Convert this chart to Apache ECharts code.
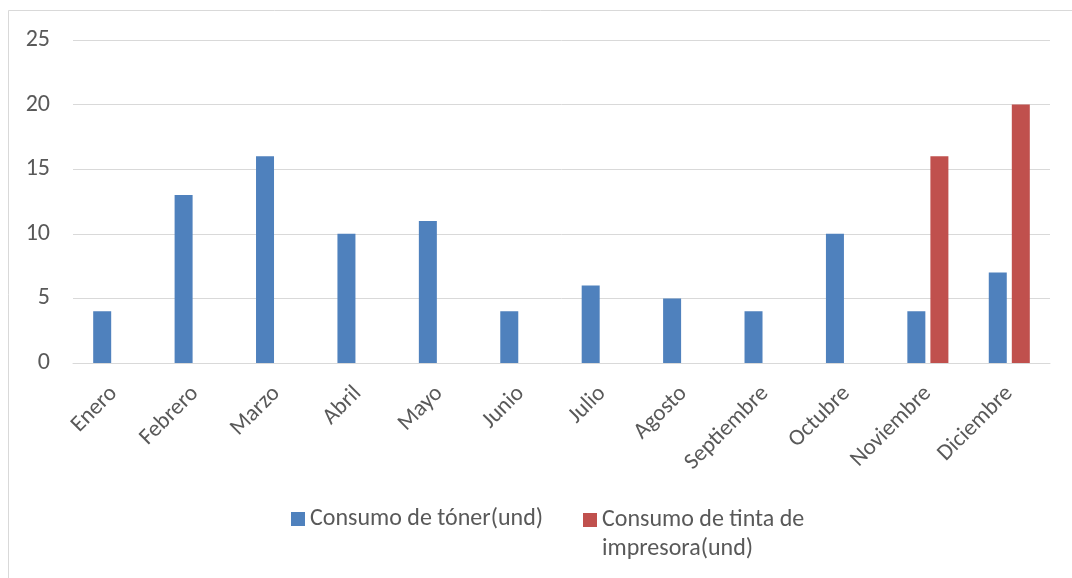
<!DOCTYPE html>
<html>
<head>
<meta charset="utf-8">
<script src="https://cdn.jsdelivr.net/npm/echarts@6/dist/echarts.min.js"></script>
<style>
html,body{margin:0;padding:0;background:#fff;}
#chart{width:1072px;height:578px;}
</style>
</head>
<body>
<div id="chart"></div>
<script>
const categories = ['Enero','Febrero','Marzo','Abril','Mayo','Junio','Julio','Agosto','Septiembre','Octubre','Noviembre','Diciembre'];
const tonerName = 'Consumo de tóner(und)';
const tintaName = 'Consumo de tinta de impresora(und)';
const toner = [4, 13, 16, 10, 11, 4, 6, 5, 4, 10, 4, 7];
const tinta = [null, null, null, null, null, null, null, null, null, null, 16, 20];
const yTicks = [0, 5, 10, 15, 20, 25];

const FONT = "Carlito, 'Open Sans', sans-serif";
const chart = echarts.init(document.getElementById('chart'), null, {renderer: 'canvas'});
chart.setOption({
  animation: false,
  backgroundColor: '#ffffff',
  graphic: [{
    type: 'rect',
    shape: {x: 8.5, y: 10.5, width: 1100, height: 600},
    style: {fill: 'none', stroke: '#d9d9d9', lineWidth: 1},
    silent: true
  }],
  grid: {left: 73, right: 22, top: 40, bottom: 215, containLabel: false},
  legend: [{
    data: [{name: tonerName, icon: 'rect'}],
    left: 291, top: 505, padding: 0,
    itemWidth: 14, itemHeight: 14, itemGap: 5,
    textStyle: {fontFamily: FONT, fontSize: 24, color: '#595959', lineHeight: 28}
  }, {
    data: [{name: tintaName, icon: 'path://M0,0H14V14H0Z M0,41.99H0.01V42H0Z'}],
    left: 583, top: 505, padding: 0,
    itemWidth: 14, itemHeight: 42, itemGap: 5,
    formatter: function () { return 'Consumo de tinta de\nimpresora(und)'; },
    textStyle: {fontFamily: FONT, fontSize: 24, color: '#595959', lineHeight: 29}
  }],
  xAxis: {
    type: 'category',
    data: categories,
    axisLine: {show: true, lineStyle: {color: '#d9d9d9', width: 1}},
    axisTick: {show: false},
    axisLabel: {rotate: 45, margin: 27, color: '#595959', fontSize: 23, fontFamily: FONT, interval: 0}
  },
  yAxis: {
    type: 'value',
    min: yTicks[0], max: yTicks[yTicks.length - 1], interval: 5,
    axisLine: {show: false},
    axisTick: {show: false},
    splitLine: {lineStyle: {color: '#d9d9d9', width: 1}},
    axisLabel: {margin: 23, color: '#595959', fontSize: 24, fontFamily: FONT}
  },
  series: [{
    name: tonerName,
    type: 'bar',
    data: toner,
    barWidth: 18,
    barGap: '28%',
    itemStyle: {color: '#4f81bd'}
  }, {
    name: tintaName,
    type: 'bar',
    data: tinta,
    barWidth: 18,
    barGap: '28%',
    itemStyle: {color: '#c0504d'}
  }]
});
</script>
</body>
</html>
